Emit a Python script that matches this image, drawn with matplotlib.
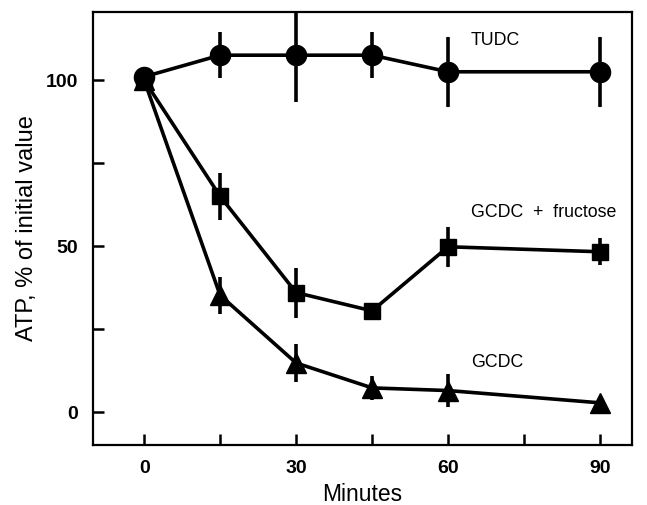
import matplotlib
matplotlib.use('Agg')
import matplotlib.pyplot as plt

plt.rcParams['font.family'] = ['Liberation Sans', 'DejaVu Sans']

# time points (minutes)
minutes = [0, 15, 30, 45, 60, 90]

# ATP, % of initial value
tudc = [101, 107.5, 107.5, 107.5, 102.5, 102.5]
tudc_err = [0, 7, 14, 7, 10.5, 10.5]

gcdc_fru = [100, 65, 36, 30.5, 49.8, 48.3]
gcdc_fru_err = [0, 7, 7.5, 2, 6, 4]

gcdc = [100, 35.2, 14.8, 7.3, 6.5, 2.8]
gcdc_err = [0, 5.5, 5.7, 3.5, 5, 0]

labels = ['TUDC', 'GCDC  +  fructose', 'GCDC']
label_y = [112, 60, 15]

fig = plt.figure(figsize=(6.47, 5.05), dpi=100)
ax = fig.add_axes([0.1437, 0.1188, 0.8331, 0.8574])

style = dict(color='black', lw=2.6, elinewidth=2.6, capsize=0, clip_on=True)
ax.errorbar(minutes, tudc, yerr=tudc_err, marker='o', ms=14.5, **style)
ax.errorbar(minutes, gcdc_fru, yerr=gcdc_fru_err, marker='s', ms=12, **style)
ax.errorbar(minutes, gcdc, yerr=gcdc_err, marker='^', ms=14, **style)

for txt, yy in zip(labels, label_y):
    ax.text(64.5, yy, txt, fontsize=12.8, va='center', ha='left')

ax.set_xlim(-10.1, 96.3)
ax.set_ylim(-9.9, 120.5)

ax.set_xticks([0, 15, 30, 45, 60, 75, 90])
ax.set_xticklabels(['0', '', '30', '', '60', '', '90'])
ax.set_yticks([0, 25, 50, 75, 100])
ax.set_yticklabels(['0', '', '50', '', '100'])
ax.tick_params(direction='in', length=8, width=1.8, labelsize=14, pad=11)
for lab in ax.get_xticklabels() + ax.get_yticklabels():
    lab.set_fontweight('bold')

for sp in ax.spines.values():
    sp.set_linewidth(1.6)

ax.set_xlabel('Minutes', fontsize=16.5, labelpad=4)
ax.set_ylabel('ATP, % of initial value', fontsize=17, labelpad=5)

fig.savefig('out.png', dpi=100)
